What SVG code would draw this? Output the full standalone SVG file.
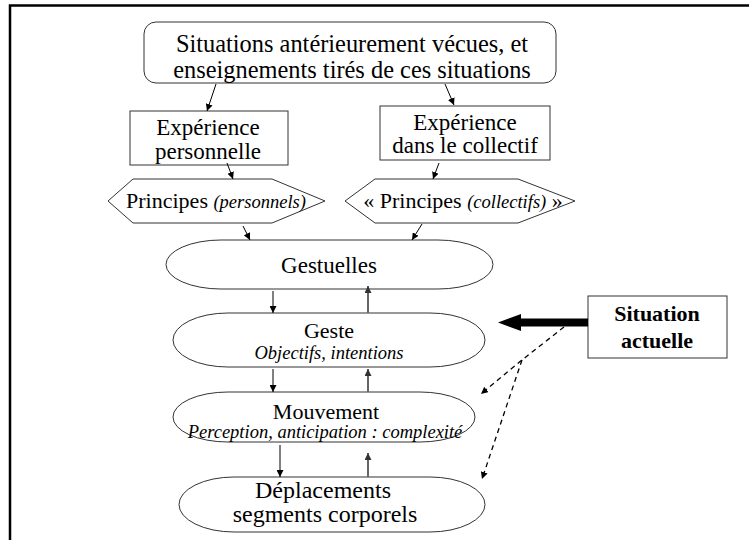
<svg xmlns="http://www.w3.org/2000/svg" width="749" height="540" viewBox="0 0 749 540">
<defs>
<marker id="ah" viewBox="0 0 10 10" refX="10" refY="5" markerWidth="7" markerHeight="7" markerUnits="userSpaceOnUse" orient="auto"><path d="M0,0 L10,5 L0,10 z" fill="#000"/></marker>
<marker id="ahg" viewBox="0 0 10 10" refX="10" refY="5" markerWidth="7" markerHeight="7" markerUnits="userSpaceOnUse" orient="auto"><path d="M0,0 L10,5 L0,10 z" fill="#333"/></marker>
</defs>
<style>
text{fill:#000;text-anchor:middle}
.n{fill:#fff;stroke:#333;stroke-width:1}
.c{stroke:#000;stroke-width:1;fill:none;marker-end:url(#ah)}
.u{stroke:#666;stroke-width:2;fill:none;marker-end:url(#ahg)}
.d{stroke:#000;stroke-width:1.3;fill:none;stroke-dasharray:5,4;marker-end:url(#ah)}
.i{font-style:italic}
</style>
<rect width="749" height="540" fill="#fff"/>
<path d="M10,540 L10,5.5 L749,5.5" fill="none" stroke="#000" stroke-width="2.5"/>
<g font-family="Liberation Serif, serif">
<g id="situations">
<rect class="n" x="144" y="22" width="412" height="61" rx="12"/>
<text x="352" y="52" font-size="24.4">Situations antérieurement vécues, et</text>
<text x="352" y="78" font-size="24.4">enseignements tirés de ces situations</text>
</g>
<g id="exp-perso">
<rect class="n" x="130" y="111" width="158" height="54"/>
<text x="208" y="135" font-size="23">Expérience</text>
<text x="208" y="159" font-size="23">personnelle</text>
</g>
<g id="exp-coll">
<rect class="n" x="380" y="106" width="170" height="54"/>
<text x="465" y="130" font-size="23">Expérience</text>
<text x="465" y="153" font-size="23">dans le collectif</text>
</g>
<g id="principes-perso">
<polygon class="n" points="108,201 133,179 272,179 325,201 272,223 133,223"/>
<text x="216" y="208" font-size="22">Principes <tspan class="i" font-size="18.5">(personnels)</tspan></text>
</g>
<g id="principes-coll">
<polygon class="n" points="345,201 375,179 518,179 575,201 518,223 375,223"/>
<text x="463" y="208" font-size="22">« Principes <tspan class="i" font-size="18.5">(collectifs)</tspan> »</text>
</g>
<g id="gestuelles">
<rect class="n" x="166" y="240" width="327" height="49" rx="55" ry="24.5"/>
<text x="329" y="273" font-size="23">Gestuelles</text>
</g>
<g id="geste">
<rect class="n" x="173" y="313" width="312" height="54" rx="55" ry="27"/>
<text x="329" y="338" font-size="22">Geste</text>
<text class="i" x="329" y="359" font-size="18.5">Objectifs, intentions</text>
</g>
<g id="mouvement">
<rect class="n" x="173" y="392" width="302" height="50" rx="55" ry="25"/>
<text x="326" y="419" font-size="22">Mouvement</text>
<text class="i" x="325" y="438" font-size="18.5">Perception, anticipation : complexité</text>
</g>
<g id="deplacements">
<rect class="n" x="179" y="477" width="306" height="55" rx="55" ry="27.5"/>
<text x="323" y="498" font-size="24">Déplacements</text>
<text x="325" y="522" font-size="24">segments corporels</text>
</g>
<g id="situation-actuelle">
<rect class="n" x="588" y="296" width="139" height="62" stroke="#555"/>
<text x="657" y="321" font-size="22" font-weight="bold">Situation</text>
<text x="657" y="348" font-size="22" font-weight="bold">actuelle</text>
</g>
</g>
<g id="connectors">
<line class="c" x1="216" y1="84" x2="207" y2="111"/>
<line class="c" x1="445" y1="84" x2="454" y2="105"/>
<line class="c" x1="227" y1="163" x2="233" y2="179"/>
<line class="c" x1="439" y1="163" x2="433" y2="179"/>
<line class="c" x1="243" y1="226" x2="250" y2="240"/>
<line class="c" x1="422" y1="224" x2="412" y2="240"/>
<line class="c" x1="273" y1="291" x2="273" y2="313"/>
<line class="u" x1="368" y1="313" x2="368" y2="286"/>
<line class="c" x1="273" y1="369" x2="273" y2="392"/>
<line class="u" x1="368" y1="392" x2="368" y2="369"/>
<line class="c" x1="280" y1="445" x2="280" y2="477"/>
<line class="u" x1="368" y1="477" x2="368" y2="453"/>
<polygon points="588,318.5 521,318.5 521,314 498,322.5 521,331 521,326.5 588,326.5" fill="#000"/>
<polyline class="d" points="564,327 522,360 481,394"/>
<line class="d" x1="522" y1="360" x2="482" y2="479"/>
</g>
</svg>
